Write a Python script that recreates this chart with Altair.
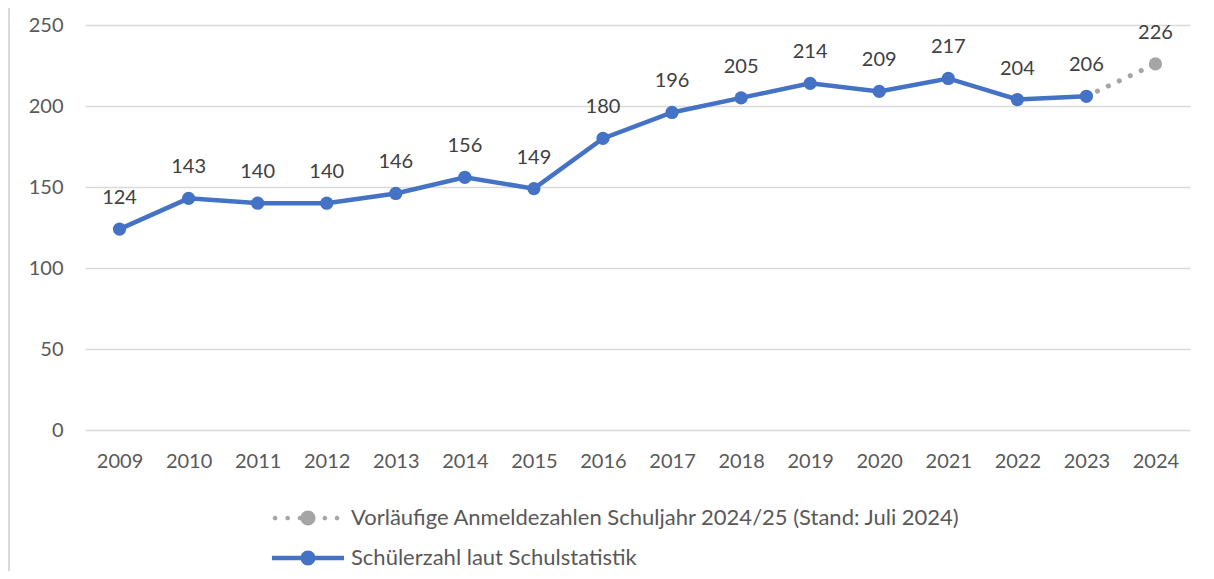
import altair as alt
import pandas as pd

# ---- data ----
years = [str(y) for y in range(2009, 2025)]
actual_years = years[:15]
actual_values = [124, 143, 140, 140, 146, 156, 149, 180, 196, 205, 214, 209, 217, 204, 206]
forecast_years = ["2023", "2024"]
forecast_values = [206, 226]
label_actual = "Schülerzahl laut Schulstatistik"
label_forecast = "Vorläufige Anmeldezahlen Schuljahr 2024/25 (Stand: Juli 2024)"
y_ticks = [0, 50, 100, 150, 200, 250]

BLUE = "#4472C4"
GREY = "#A5A5A5"
FONT = "Lato"

actual_df = pd.DataFrame({"year": actual_years, "value": actual_values, "series": label_actual})
forecast_df = pd.DataFrame({"year": forecast_years, "value": forecast_values, "series": label_forecast})
forecast_pt = forecast_df.iloc[1:].copy()

x_enc = alt.X(
    "year:O",
    scale=alt.Scale(type="point", domain=years, padding=0.5),
    axis=alt.Axis(title=None, labelAngle=0, domain=False, ticks=False, grid=False,
                  labelPadding=21, labelFont=FONT, labelFontSize=20, labelColor="#595959"),
)
y_enc = alt.Y(
    "value:Q",
    scale=alt.Scale(domain=[0, 250], nice=False, zero=True),
    axis=alt.Axis(title=None, values=y_ticks, domain=False, ticks=False, grid=True,
                  gridColor="#D9D9D9", gridWidth=1.5, labelPadding=22,
                  labelFont=FONT, labelFontSize=20, labelColor="#595959"),
)

actual_line = alt.Chart(actual_df).mark_line(color=BLUE, strokeWidth=4.5).encode(x=x_enc, y=y_enc)
forecast_line = alt.Chart(forecast_df).mark_line(
    color=GREY, strokeWidth=5, strokeDash=[0.1, 12], strokeCap="round"
).encode(x="year:O", y="value:Q")
actual_pts = alt.Chart(actual_df).mark_point(filled=True, size=175, color=BLUE, opacity=1).encode(
    x="year:O", y="value:Q")
forecast_pts = alt.Chart(forecast_pt).mark_point(filled=True, size=175, color=GREY, opacity=1).encode(
    x="year:O", y="value:Q")

all_df = pd.concat([actual_df, forecast_pt])
labels = alt.Chart(all_df).mark_text(
    font=FONT, fontSize=20, color="#404040", dy=-31, baseline="middle"
).encode(x="year:O", y="value:Q", text="value:Q")


# legend symbols (unit = sqrt(symbolSize)/2 px)
def circ(cx, r):
    return f"M{cx + r},0A{r},{r},0,1,1,{cx - r},0A{r},{r},0,1,1,{cx + r},0Z"


R_BIG = 1.07
R_DOT = 0.33
blue_sym = "M-5.15,-0.32H5.15V0.32H-5.15Z" + circ(0, R_BIG)
grey_sym = "".join(circ(c, R_DOT) for c in [-4.7, -2.9, -1.15, 2.4, 4.15]) + circ(0, R_BIG)

series_domain = [label_forecast, label_actual]
leg = dict(orient="none", legendX=212, legendY=482, direction="vertical",
           symbolSize=196, symbolStrokeWidth=0, symbolOpacity=1,
           labelFont=FONT, labelFontSize=22, labelColor="#595959", labelOffset=32,
           rowPadding=18, padding=0, labelLimit=900)
legend_layer = alt.Chart(all_df).transform_filter("false").mark_point(
    filled=True, strokeWidth=0, opacity=1
).encode(
    fill=alt.Fill("series:N", title=None, scale=alt.Scale(domain=series_domain, range=[GREY, BLUE]),
                  legend=alt.Legend(**leg)),
    shape=alt.Shape("series:N", title=None, scale=alt.Scale(domain=series_domain, range=[grey_sym, blue_sym]),
                    legend=alt.Legend(**leg)),
)

border = alt.Chart(pd.DataFrame({"b": [0]})).mark_rule(color="#D9D9D9", strokeWidth=2).encode(
    x=alt.value(-76), y=alt.value(-17), y2=alt.value(546))

chart = alt.layer(
    border, actual_line, forecast_line, actual_pts, forecast_pts, labels, legend_layer
).properties(
    width=1105, height=405,
    autosize=alt.AutoSizeParams(type="none"),
    padding={"left": 77, "top": 17, "right": 16, "bottom": 141},
    background="white",
).configure_view(stroke=None)

chart.save("out.html", embed_options={"renderer": "svg", "actions": False})
